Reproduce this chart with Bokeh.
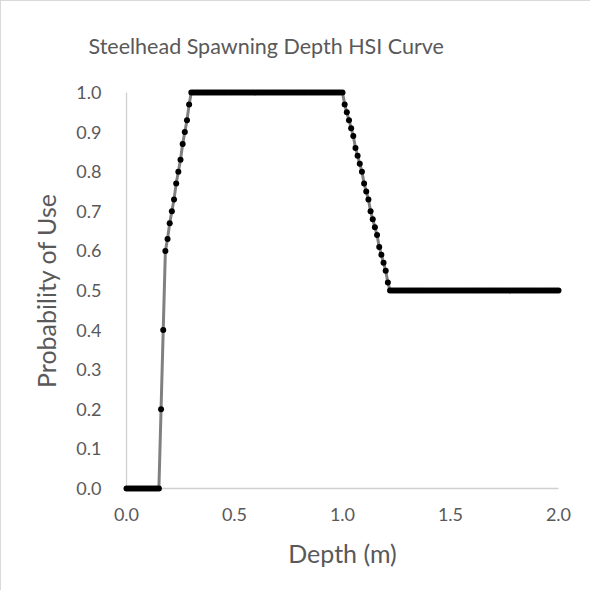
from bokeh.plotting import figure
from bokeh.models import Range1d, FixedTicker, NumeralTickFormatter
from bokeh.embed import file_html
from bokeh.resources import INLINE

# ---------------- data ----------------
depth_m = [
    0.00, 0.01, 0.02, 0.03, 0.04, 0.05, 0.06, 0.07, 0.08, 0.09,
    0.10, 0.11, 0.12, 0.13, 0.14, 0.15,
    0.16, 0.17, 0.18, 0.19, 0.20, 0.21, 0.22, 0.23, 0.24, 0.25,
    0.26, 0.27, 0.28, 0.29, 0.30,
    0.31, 0.32, 0.33, 0.34, 0.35, 0.36, 0.37, 0.38, 0.39, 0.40,
    0.41, 0.42, 0.43, 0.44, 0.45, 0.46, 0.47, 0.48, 0.49, 0.50,
    0.51, 0.52, 0.53, 0.54, 0.55, 0.56, 0.57, 0.58, 0.59, 0.60,
    0.61, 0.62, 0.63, 0.64, 0.65, 0.66, 0.67, 0.68, 0.69, 0.70,
    0.71, 0.72, 0.73, 0.74, 0.75, 0.76, 0.77, 0.78, 0.79, 0.80,
    0.81, 0.82, 0.83, 0.84, 0.85, 0.86, 0.87, 0.88, 0.89, 0.90,
    0.91, 0.92, 0.93, 0.94, 0.95, 0.96, 0.97, 0.98, 0.99, 1.00,
    1.01, 1.02, 1.03, 1.04, 1.05, 1.06, 1.07, 1.08, 1.09, 1.10,
    1.11, 1.12, 1.13, 1.14, 1.15, 1.16, 1.17, 1.18, 1.19, 1.20,
    1.21, 1.22,
    1.23, 1.24, 1.25, 1.26, 1.27, 1.28, 1.29, 1.30,
    1.31, 1.32, 1.33, 1.34, 1.35, 1.36, 1.37, 1.38, 1.39, 1.40,
    1.41, 1.42, 1.43, 1.44, 1.45, 1.46, 1.47, 1.48, 1.49, 1.50,
    1.51, 1.52, 1.53, 1.54, 1.55, 1.56, 1.57, 1.58, 1.59, 1.60,
    1.61, 1.62, 1.63, 1.64, 1.65, 1.66, 1.67, 1.68, 1.69, 1.70,
    1.71, 1.72, 1.73, 1.74, 1.75, 1.76, 1.77, 1.78, 1.79, 1.80,
    1.81, 1.82, 1.83, 1.84, 1.85, 1.86, 1.87, 1.88, 1.89, 1.90,
    1.91, 1.92, 1.93, 1.94, 1.95, 1.96, 1.97, 1.98, 1.99, 2.00,
]

probability_of_use = [
    0.00, 0.00, 0.00, 0.00, 0.00, 0.00, 0.00, 0.00, 0.00, 0.00,
    0.00, 0.00, 0.00, 0.00, 0.00, 0.00,
    0.20, 0.40, 0.60, 0.63, 0.67, 0.70, 0.73, 0.77, 0.80, 0.83,
    0.87, 0.90, 0.93, 0.97, 1.00,
    1.00, 1.00, 1.00, 1.00, 1.00, 1.00, 1.00, 1.00, 1.00, 1.00,
    1.00, 1.00, 1.00, 1.00, 1.00, 1.00, 1.00, 1.00, 1.00, 1.00,
    1.00, 1.00, 1.00, 1.00, 1.00, 1.00, 1.00, 1.00, 1.00, 1.00,
    1.00, 1.00, 1.00, 1.00, 1.00, 1.00, 1.00, 1.00, 1.00, 1.00,
    1.00, 1.00, 1.00, 1.00, 1.00, 1.00, 1.00, 1.00, 1.00, 1.00,
    1.00, 1.00, 1.00, 1.00, 1.00, 1.00, 1.00, 1.00, 1.00, 1.00,
    1.00, 1.00, 1.00, 1.00, 1.00, 1.00, 1.00, 1.00, 1.00, 1.00,
    0.97, 0.95, 0.93, 0.91, 0.89, 0.86, 0.84, 0.82, 0.80, 0.77,
    0.75, 0.73, 0.70, 0.68, 0.66, 0.64, 0.61, 0.59, 0.57, 0.55,
    0.52, 0.50,
    0.50, 0.50, 0.50, 0.50, 0.50, 0.50, 0.50, 0.50,
    0.50, 0.50, 0.50, 0.50, 0.50, 0.50, 0.50, 0.50, 0.50, 0.50,
    0.50, 0.50, 0.50, 0.50, 0.50, 0.50, 0.50, 0.50, 0.50, 0.50,
    0.50, 0.50, 0.50, 0.50, 0.50, 0.50, 0.50, 0.50, 0.50, 0.50,
    0.50, 0.50, 0.50, 0.50, 0.50, 0.50, 0.50, 0.50, 0.50, 0.50,
    0.50, 0.50, 0.50, 0.50, 0.50, 0.50, 0.50, 0.50, 0.50, 0.50,
    0.50, 0.50, 0.50, 0.50, 0.50, 0.50, 0.50, 0.50, 0.50, 0.50,
    0.50, 0.50, 0.50, 0.50, 0.50, 0.50, 0.50, 0.50, 0.50, 0.50,
]

x_ticks = [0.0, 0.5, 1.0, 1.5, 2.0]
y_ticks = [0.0, 0.1, 0.2, 0.3, 0.4, 0.5, 0.6, 0.7, 0.8, 0.9, 1.0]

title_text = "Steelhead Spawning Depth HSI Curve"
x_label = "Depth (m)"
y_label = "Probability of Use"

# ---------------- styling ----------------
FONT = "Lato"
TEXT_COLOR = "#595959"
AXIS_COLOR = "#d0d0d0"
LINE_COLOR = "#808080"

PX_X = 216.0   # pixels per metre
PX_Y = 396.0   # pixels per unit probability
PAD = 4.0      # pixel padding so markers at the edges are not clipped

x0, x1 = x_ticks[0], x_ticks[-1]
y0, y1 = y_ticks[0], y_ticks[-1]

p = figure(
    width=590, height=590,
    output_backend="svg", toolbar_location=None,
    x_range=Range1d(x0 - PAD / PX_X, x1 + PAD / PX_X),
    y_range=Range1d(y0 - PAD / PX_Y, y1 + PAD / PX_Y),
    min_border_left=121, min_border_right=29,
    min_border_top=87, min_border_bottom=99,
)
p.outline_line_color = None
p.grid.visible = False
p.background_fill_color = "white"
p.border_fill_color = "white"

p.title.text = title_text
p.title.align = "left"
p.title.offset = -34
p.title.standoff = 59
p.title.text_font = FONT
p.title.text_font_size = "21.5px"
p.title.text_font_style = "normal"
p.title.text_color = TEXT_COLOR

for ax, ticks in ((p.xaxis, x_ticks), (p.yaxis, y_ticks)):
    ax.ticker = FixedTicker(ticks=ticks)
    ax.formatter = NumeralTickFormatter(format="0.0")
    ax.axis_line_color = None
    ax.major_tick_line_color = None
    ax.minor_tick_line_color = None
    ax.major_label_text_font = FONT
    ax.major_label_text_font_size = "18px"
    ax.major_label_text_color = TEXT_COLOR
    ax.axis_label_text_font = FONT
    ax.axis_label_text_font_size = "25px"
    ax.axis_label_text_font_style = "normal"
    ax.axis_label_text_color = TEXT_COLOR

p.xaxis.axis_label = x_label
p.yaxis.axis_label = y_label
p.xaxis.major_label_standoff = 9
p.yaxis.major_label_standoff = 15
p.xaxis.axis_label_standoff = 14
p.yaxis.axis_label_standoff = 12

# axis lines at the data origin
p.segment(x0=[x0, x0], y0=[y0, y0], x1=[x1, x0], y1=[y0, y1],
          line_color=AXIS_COLOR, line_width=1.3)

# series
p.line(depth_m, probability_of_use, line_color=LINE_COLOR, line_width=3)
p.scatter(depth_m, probability_of_use, size=6,
          fill_color="black", line_color="black", line_width=0)

p.styles = {"border-left": "1px solid #d9d9d9", "border-top": "1px solid #d9d9d9"}

open("out.html", "w").write(file_html(p, INLINE))
